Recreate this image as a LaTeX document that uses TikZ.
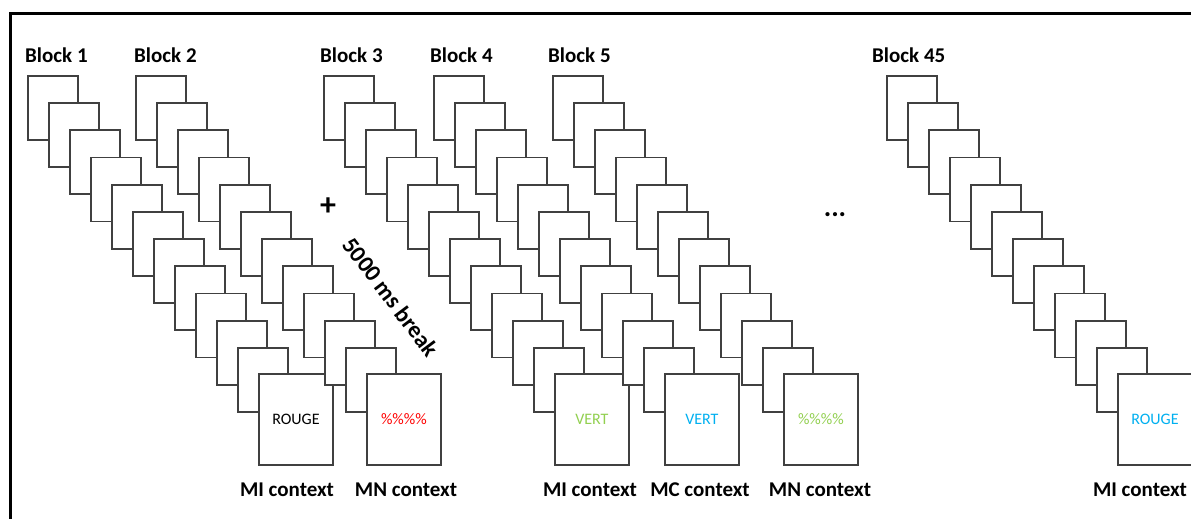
\documentclass[tikz,border=0pt]{standalone}
\usepackage{fontspec}
\setmainfont{Carlito}
\definecolor{boxline}{RGB}{64,64,64}
\definecolor{vgreen}{RGB}{146,208,80}
\definecolor{vblue}{RGB}{0,176,240}
\definecolor{vred}{RGB}{255,0,0}
\newcommand\drawstack[4]{%
  \foreach \i in {0,...,10}{
    \node[smallbox] (#1s\i) at ({#2+21*\i},{75+27.2*\i}) {};
  }
  \node[bigbox, text=#3] (#1big) at ({#2+231},373) {#4};
}
\begin{document}
\begin{tikzpicture}[x=1pt,y=-1pt,
  smallbox/.style={draw=boxline, line width=1.8pt, fill=white, minimum width=50pt, minimum height=64pt, inner sep=0pt, anchor=north west},
  bigbox/.style={draw=boxline, line width=1.8pt, fill=white, minimum width=74pt, minimum height=91pt, inner sep=0pt, anchor=north west, font=\fontsize{16}{19}\selectfont},
  blocklabel/.style={font=\fontsize{21}{25}\selectfont\bfseries, anchor=base west, inner sep=0pt},
  ctxlabel/.style={font=\fontsize{21}{25}\selectfont\bfseries, anchor=base, inner sep=0pt}]
\useasboundingbox (0,0) rectangle (1191,519);
\draw[line width=3pt] (10.5,519) -- (10.5,13.5) -- (1191,13.5);
\drawstack{a}{27}{black}{ROUGE}
\drawstack{b}{135}{vred}{\%\%\%\%}
\drawstack{c}{323}{vgreen}{VERT}
\drawstack{d}{433}{vblue}{VERT}
\drawstack{e}{552}{vgreen}{\%\%\%\%}
\drawstack{f}{886}{vblue}{ROUGE}
\node[blocklabel] (la) at (25,63) {Block 1};
\node[blocklabel] (lb) at (134,63) {Block 2};
\node[blocklabel] (lc) at (320,63) {Block 3};
\node[blocklabel] (ld) at (430,63) {Block 4};
\node[blocklabel] (le) at (548,63) {Block 5};
\node[blocklabel] (lf) at (872,63) {Block 45};
\node[ctxlabel] (ca) at (287,496) {MI context};
\node[ctxlabel] (cb) at (406,496) {MN context};
\node[ctxlabel] (cc) at (590,496) {MI context};
\node[ctxlabel] (cd) at (700,496) {MC context};
\node[ctxlabel] (ce) at (820,496) {MN context};
\node[ctxlabel] (cf) at (1140,496) {MI context};
\node[font=\fontsize{32}{32}\selectfont\bfseries, inner sep=0pt] (plus) at (328,207) {+};
\node[font=\fontsize{28}{28}\selectfont\bfseries, inner sep=0pt] (dots) at (835,215) {...};
\node[rotate=-53, font=\fontsize{23.5}{26}\selectfont\bfseries, inner sep=0pt] (brk) at (391,297) {5000 ms break};
\end{tikzpicture}
\end{document}
